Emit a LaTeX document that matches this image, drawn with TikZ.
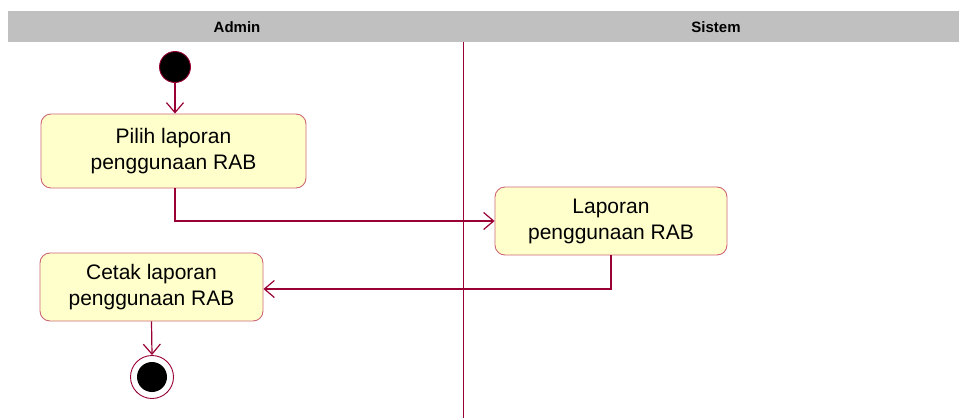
\documentclass[tikz,border=0pt]{standalone}
\usepackage{fontspec}
\setmainfont{Liberation Sans}
\usetikzlibrary{arrows.meta,calc}
\definecolor{wire}{HTML}{990033}
\definecolor{boxfill}{HTML}{FFFFCC}
\definecolor{boxline}{HTML}{CC6677}
\definecolor{hdr}{HTML}{C0C0C0}
\begin{document}
\begin{tikzpicture}[x=1pt,y=-1pt,
  actbox/.style={draw=boxline, fill=boxfill, line width=0.9pt, rounded corners=10pt,
    align=center, inner sep=0pt, font=\fontsize{21}{26}\selectfont},
  lanehead/.style={font=\bfseries\fontsize{15}{18}\selectfont},
  flow/.style={draw=wire, line width=1.2pt, -{Straight Barb[length=10pt,width=17pt,line width=1.2pt]}},
  startdot/.style={circle, fill=black, draw=wire, line width=0.9pt, minimum size=31pt, inner sep=0pt},
  endring/.style={circle, draw=wire, line width=0.9pt, fill=white, minimum size=43pt, inner sep=0pt},
  enddot/.style={circle, fill=black, minimum size=30pt, inner sep=0pt}]
\useasboundingbox (0,0) rectangle (959,418);
\fill[hdr] (8,11) rectangle (959,42);
\node[lanehead] (hA) at (237,27) {Admin};
\node[lanehead] (hS) at (716,27) {Sistem};
\draw[wire, line width=0.8pt] (463,42) -- (463,418);

\node[startdot] (start) at (175,67) {};
\node[actbox, minimum width=265pt, minimum height=74pt] (box1) at (173.5,151) {Pilih laporan\\penggunaan RAB};
\node[actbox, minimum width=232pt, minimum height=68pt] (box2) at (611,221) {Laporan\\penggunaan RAB};
\node[actbox, minimum width=223pt, minimum height=68pt] (box3) at (151.5,287) {Cetak laporan\\penggunaan RAB};
\node[endring] (fin) at (152,377) {};
\node[enddot] (findot) at (fin) {};

\draw[flow] (start) -- (start |- box1.north);
\draw[flow] (box1.south -| start) |- (box2.west);
\draw[flow] (box2.south) |- ([yshift=-2pt]box3.east);
\draw[flow] (box3.south) -- (fin.north);
\end{tikzpicture}
\end{document}
